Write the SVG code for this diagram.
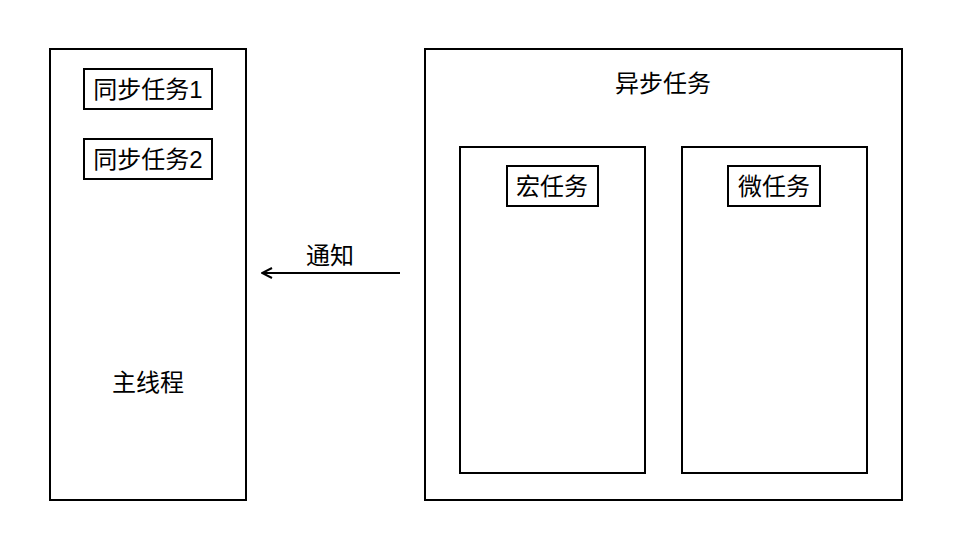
<svg xmlns="http://www.w3.org/2000/svg" width="963" height="547" viewBox="0 0 963 547">
<defs>
<style>
rect{fill:#fff;stroke:#000;stroke-width:2}
text{font-family:"Liberation Sans","Noto Sans CJK SC",sans-serif;font-size:24px;fill:#000;text-anchor:middle;dominant-baseline:central}
.c{stroke:#000;stroke-width:2;fill:none}
</style>
<marker id="ah" markerWidth="12" markerHeight="12" refX="11" refY="6" orient="auto" markerUnits="userSpaceOnUse">
<path d="M1,1 L11,6 L1,11" fill="none" stroke="#000" stroke-width="2"/>
</marker>
</defs>
<rect width="963" height="547" style="stroke:none"/>
<g id="main">
<rect x="50" y="49" width="196" height="451"/>
<text x="148" y="382">主线程</text>
</g>
<g id="sync1">
<rect x="84" y="69" width="128" height="40"/>
<text x="148" y="89">同步任务1</text>
</g>
<g id="sync2">
<rect x="84" y="139" width="128" height="40"/>
<text x="148" y="159">同步任务2</text>
</g>
<g id="async">
<rect x="425" y="49" width="477" height="451"/>
<text x="663" y="83">异步任务</text>
</g>
<g id="macro">
<rect x="460" y="147" width="185" height="326"/>
<rect x="507" y="166" width="91" height="40"/>
<text x="552" y="186">宏任务</text>
</g>
<g id="micro">
<rect x="682" y="147" width="185" height="326"/>
<rect x="728" y="166" width="92" height="40"/>
<text x="774" y="186">微任务</text>
</g>
<g id="connectors">
<line class="c" x1="400" y1="273" x2="262" y2="273" marker-end="url(#ah)"/>
<text x="330" y="255">通知</text>
</g>
</svg>
